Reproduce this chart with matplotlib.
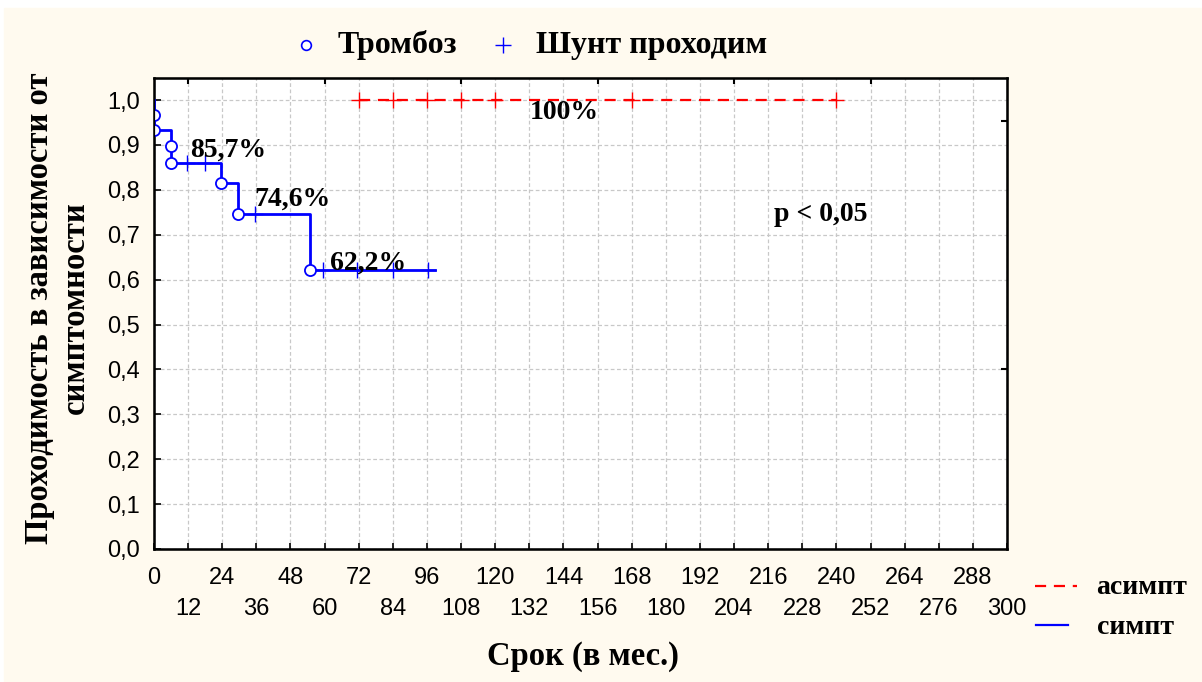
import matplotlib
matplotlib.use("Agg")
import matplotlib.pyplot as plt
from matplotlib.lines import Line2D
from matplotlib.patches import Rectangle

# === Данные ===
# симптомные: ступенчатая кривая Каплана-Мейера
symp_time = [0, 0, 0, 6, 6, 23.5, 29.7, 54.8, 98.8]
symp_surv = [1.0, 0.967, 0.933, 0.897, 0.86, 0.816, 0.747, 0.622, 0.622]
# тромбозы (события) - кружки
event_time = [0, 0, 6, 6, 23.5, 29.7, 54.8]
event_surv = [0.967, 0.933, 0.897, 0.86, 0.816, 0.747, 0.622]
# цензурированные (шунт проходим) - плюсы
cens_time = [11.5, 18, 35.5, 59.5, 71.3, 84.2, 96.4]
cens_surv = [0.86, 0.86, 0.747, 0.622, 0.622, 0.622, 0.622]

# асимптомные: все цензурированы
asym_time = [72, 84, 96, 108, 120, 168, 240]
asym_surv = [1.0, 1.0, 1.0, 1.0, 1.0, 1.0, 1.0]

# подписи процентов
pct_labels = ["100%", "85,7%", "74,6%", "62,2%"]
pct_x = [132, 12.7, 35.3, 62]
pct_y = [0.973, 0.889, 0.78, 0.636]

x_major = list(range(0, 300, 24))
x_minor = list(range(12, 301, 24))
y_ticks = [i / 10 for i in range(11)]

SERIF = "Liberation Serif"
SANS = "Liberation Sans"
BG = "#FFFAEF"

fig = plt.figure(figsize=(12.02, 6.82), dpi=100, facecolor="white")
fig.patches.append(Rectangle((4 / 1202, 0), 1 - 4 / 1202, 1 - 8 / 682,
                             transform=fig.transFigure, color=BG, zorder=-10))

ax = fig.add_axes([154 / 1202, 1 - 549 / 682, (1007 - 154) / 1202, (549 - 78) / 682])
ax.set_facecolor("white")
ax.set_xlim(0, 300)
ax.set_ylim(0, 1.049)

# сетка
ax.set_xticks(x_major)
ax.set_xticks(x_minor, minor=True)
ax.set_yticks(y_ticks)
ax.grid(True, which="both", color="#c8c8c8", linestyle=(0, (3, 2)), linewidth=0.9)
ax.set_axisbelow(True)

ax.set_xticklabels([str(v) for v in x_major], fontsize=17, family=SANS)
ax.set_xticklabels([str(v) for v in x_minor], minor=True, fontsize=17, family=SANS)
ax.set_yticklabels([f"{v:.1f}".replace(".", ",") for v in y_ticks], fontsize=17, family=SANS)
ax.tick_params(axis="x", which="major", direction="in", length=4, width=1.2, pad=13)
ax.tick_params(axis="x", which="minor", direction="in", length=4, width=1.2, pad=35)
ax.tick_params(axis="y", direction="in", length=5, width=1.2, pad=10)
for s in ax.spines.values():
    s.set_linewidth(1.8)

# верхние и правые штрихи
ax_top = ax.twiny()
ax_top.set_xlim(0, 300)
ax_top.set_xticks([12, 60, 108, 156, 204, 252])
ax_top.set_xticklabels([])
ax_top.tick_params(direction="in", length=4, width=1.5)
ax_r = ax.twinx()
ax_r.set_ylim(0, 1.049)
ax_r.set_yticks([0.953, 0.4])
ax_r.set_yticklabels([])
ax_r.tick_params(direction="in", length=4, width=1.5)

# кривые
ax.step(symp_time, symp_surv, where="post", color="#0000FF", linewidth=2, zorder=3)
ax.plot([asym_time[0], asym_time[-1]], [asym_surv[0], asym_surv[-1]],
        color="#FF0000", linewidth=1.6, dashes=(5, 3.5), zorder=3)
ax.plot(event_time, event_surv, linestyle="none", marker="o", markersize=8,
        markerfacecolor="white", markeredgecolor="#0000FF", markeredgewidth=1.3, zorder=4)
ax.plot(cens_time, cens_surv, linestyle="none", marker="+", markersize=12,
        color="#0000FF", markeredgewidth=1.0, zorder=4)
ax.plot(asym_time, asym_surv, linestyle="none", marker="+", markersize=12,
        color="#FF0000", markeredgewidth=1.0, zorder=4)

for lab, xx, yy in zip(pct_labels, pct_x, pct_y):
    ax.text(xx, yy, lab, fontsize=20, fontweight="bold", family=SERIF,
            va="center", ha="left", zorder=5)
ax.text(218, 0.744, "p < 0,05", fontsize=20, fontweight="bold", family=SERIF,
        va="center", ha="left")

# подписи осей
fig.text(583 / 1202, 1 - 657 / 682, "Срок (в мес.)", fontsize=23.5, fontweight="bold",
         family=SERIF, ha="center", va="center")
fig.text(57 / 1202, 1 - 308 / 682, "Проходимость в зависимости от\nсимптомности",
         fontsize=23.5, fontweight="bold", family=SERIF, ha="center", va="center",
         rotation=90, linespacing=1.2)

# верхняя легенда
fig.lines.append(Line2D([306 / 1202], [1 - 45 / 682], transform=fig.transFigure,
                        marker="o", markersize=7, markerfacecolor="white",
                        markeredgecolor="#0000FF", markeredgewidth=1.2, linestyle="none"))
fig.text(338 / 1202, 1 - 45 / 682, "Тромбоз", fontsize=23, fontweight="bold",
         family=SERIF, ha="left", va="center")
fig.lines.append(Line2D([503 / 1202], [1 - 45 / 682], transform=fig.transFigure,
                        marker="+", markersize=11, color="#0000FF",
                        markeredgewidth=1.0, linestyle="none"))
fig.text(536 / 1202, 1 - 45 / 682, "Шунт проходим", fontsize=23, fontweight="bold",
         family=SERIF, ha="left", va="center")

# нижняя легенда
fig.lines.append(Line2D([1035 / 1202, 1077 / 1202], [1 - 586 / 682] * 2,
                        transform=fig.transFigure, color="#FF0000", linewidth=1.6,
                        dashes=(5, 3.5)))
fig.text(1096 / 1202, 1 - 588 / 682, "асимпт", fontsize=20, fontweight="bold",
         family=SERIF, ha="left", va="center")
fig.lines.append(Line2D([1036 / 1202, 1068 / 1202], [1 - 625 / 682] * 2,
                        transform=fig.transFigure, color="#0000FF", linewidth=1.6))
fig.text(1097 / 1202, 1 - 628 / 682, "симпт", fontsize=20, fontweight="bold",
         family=SERIF, ha="left", va="center")

fig.savefig("out.png", dpi=100, facecolor=fig.get_facecolor())
